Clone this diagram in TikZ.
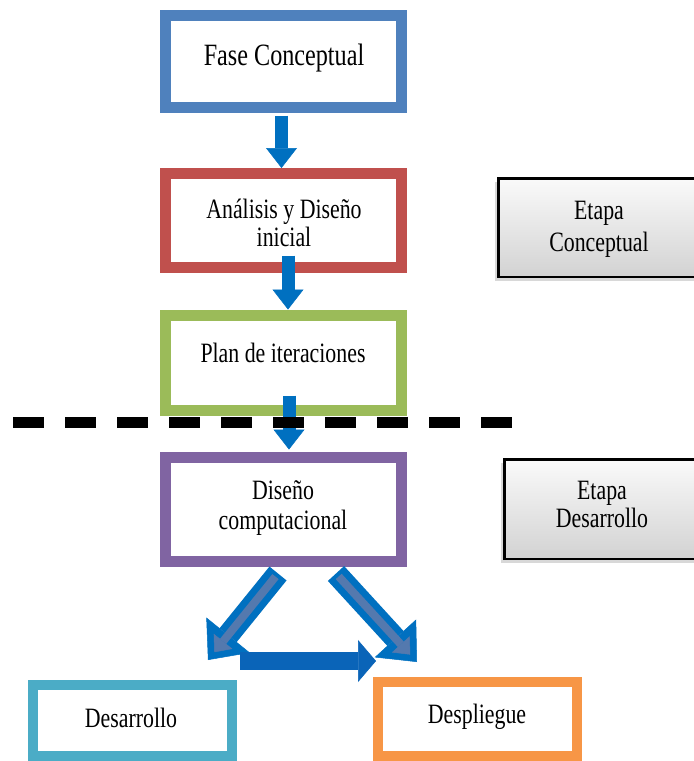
\documentclass[tikz,border=0pt]{standalone}
\usepackage{fontspec}
\setmainfont{Liberation Serif}
\newfontfamily\condfont[FakeStretch=0.78]{Liberation Serif}
\usetikzlibrary{arrows.meta,calc,shadows}
\definecolor{cfase}{HTML}{4F81BD}
\definecolor{cana}{HTML}{C0504D}
\definecolor{cplan}{HTML}{9BBB59}
\definecolor{cdis}{HTML}{8064A2}
\definecolor{cdesa}{HTML}{4BACC6}
\definecolor{cdesp}{HTML}{F79646}
\definecolor{vblue}{HTML}{0070C0}
\definecolor{gblue}{HTML}{5479AE}
\definecolor{hblue}{HTML}{0A64B8}
\begin{document}
\begin{tikzpicture}[x=1pt,y=-1pt,
  box/.style={draw=#1, line width=11pt, fill=white, inner sep=0pt},
  smallbox/.style={draw=#1, line width=10pt, fill=white, inner sep=0pt},
  lbl/.style={font=\condfont\fontsize{28}{28}\selectfont, align=center, inner sep=0pt},
  etapa/.style={draw=black, line width=2.5pt, top color=gray!4, bottom color=gray!35,
     drop shadow={shadow xshift=-3pt, shadow yshift=-4pt, opacity=0.3, fill=gray}},
  varrow/.style={draw=vblue, line width=13pt, -{Triangle[length=20pt,width=31pt,line width=0.5pt]}},
  darrow/.style={draw=vblue, line width=22pt, -{Triangle[length=32pt,width=56pt,line width=0.5pt]}},
  dinner/.style={draw=gblue, line width=8pt, shorten >=10pt, shorten <=4pt, -{Triangle[length=14pt,width=24pt,line width=0.5pt]}},
  harrow/.style={draw=hblue, line width=18pt, -{Triangle[length=18pt,width=42pt,line width=0.5pt]}},
  dashline/.style={draw=black, line width=11pt, dash pattern=on 31pt off 21pt}
]
\clip (0,0) rectangle (694,761);
\fill[white] (0,0) rectangle (694,761);

% main boxes
\node[box=cfase, minimum width=236pt, minimum height=92pt] (fase) at (283.5,61.5) {};
\node[box=cana, minimum width=236pt, minimum height=94pt] (ana) at (283.5,220.5) {};
\node[box=cplan, minimum width=236pt, minimum height=95pt] (plan) at (283.5,363) {};
\node[box=cdis, minimum width=236pt, minimum height=104pt] (dis) at (283.5,509.5) {};
\node[smallbox=cdesa, minimum width=199pt, minimum height=71pt] (desa) at (132.5,720.5) {};
\node[smallbox=cdesp, minimum width=199pt, minimum height=74pt] (desp) at (477.5,719) {};

% stage boxes
\node[etapa, minimum width=220pt, minimum height=98.5pt] (etc) at (608.25,227.5) {};
\node[etapa, minimum width=220pt, minimum height=99.5pt] (etd) at (614.25,509) {};

% labels
\node[lbl, font=\condfont\fontsize{31}{31}\selectfont] (faset) at (284,58) {Fase Conceptual};
\node[lbl] (anat) at (284,223) {Análisis y Diseño\\inicial};
\node[lbl] (plant) at (283,352.5) {Plan de iteraciones};
\node[lbl, font=\condfont\fontsize{28}{30}\selectfont] (dist) at (283,508.5) {Diseño\\computacional};
\node[lbl] (desat) at (131,717.5) {Desarrollo};
\node[lbl] (despt) at (477,716.5) {Despliegue};
\node[lbl, font=\condfont\fontsize{28}{32}\selectfont] (etct) at (599,229.5) {Etapa\\Conceptual};
\node[lbl] (etdt) at (602,504.5) {Etapa\\Desarrollo};

% vertical arrows
\draw[varrow] ($(fase.south)+(-2,2.5)$) -- ($(ana.north)+(-2,0)$);
\draw[varrow] ($(ana.south)+(4.5,-17.5)$) -- ($(plan.north)+(4.5,-0.5)$);
\draw[varrow] ($(plan.south)+(5.5,-20.5)$) -- ($(dis.north)+(5.5,-2.5)$);

% diagonal arrows
\draw[darrow] ($(dis.south)+(-5.5,6.5)$) -- ($(desa.north east)+(-29,-20)$);
\draw[dinner] ($(dis.south)+(-5.5,6.5)$) -- ($(desa.north east)+(-29,-20)$);
\draw[darrow] ($(dis.south)+(52.5,6.5)$) -- ($(desp.north west)+(44,-15)$);
\draw[dinner] ($(dis.south)+(52.5,6.5)$) -- ($(desp.north west)+(44,-15)$);

% horizontal arrow
\draw[harrow] ($(desa.north east)+(3,-19)$) -- ($(desp.north west)+(3,-16)$);

% dashed separator
\coordinate (dl) at (13,422);
\coordinate (dr) at (519,422);
\draw[dashline] (dl) -- (dr);
\end{tikzpicture}
\end{document}
